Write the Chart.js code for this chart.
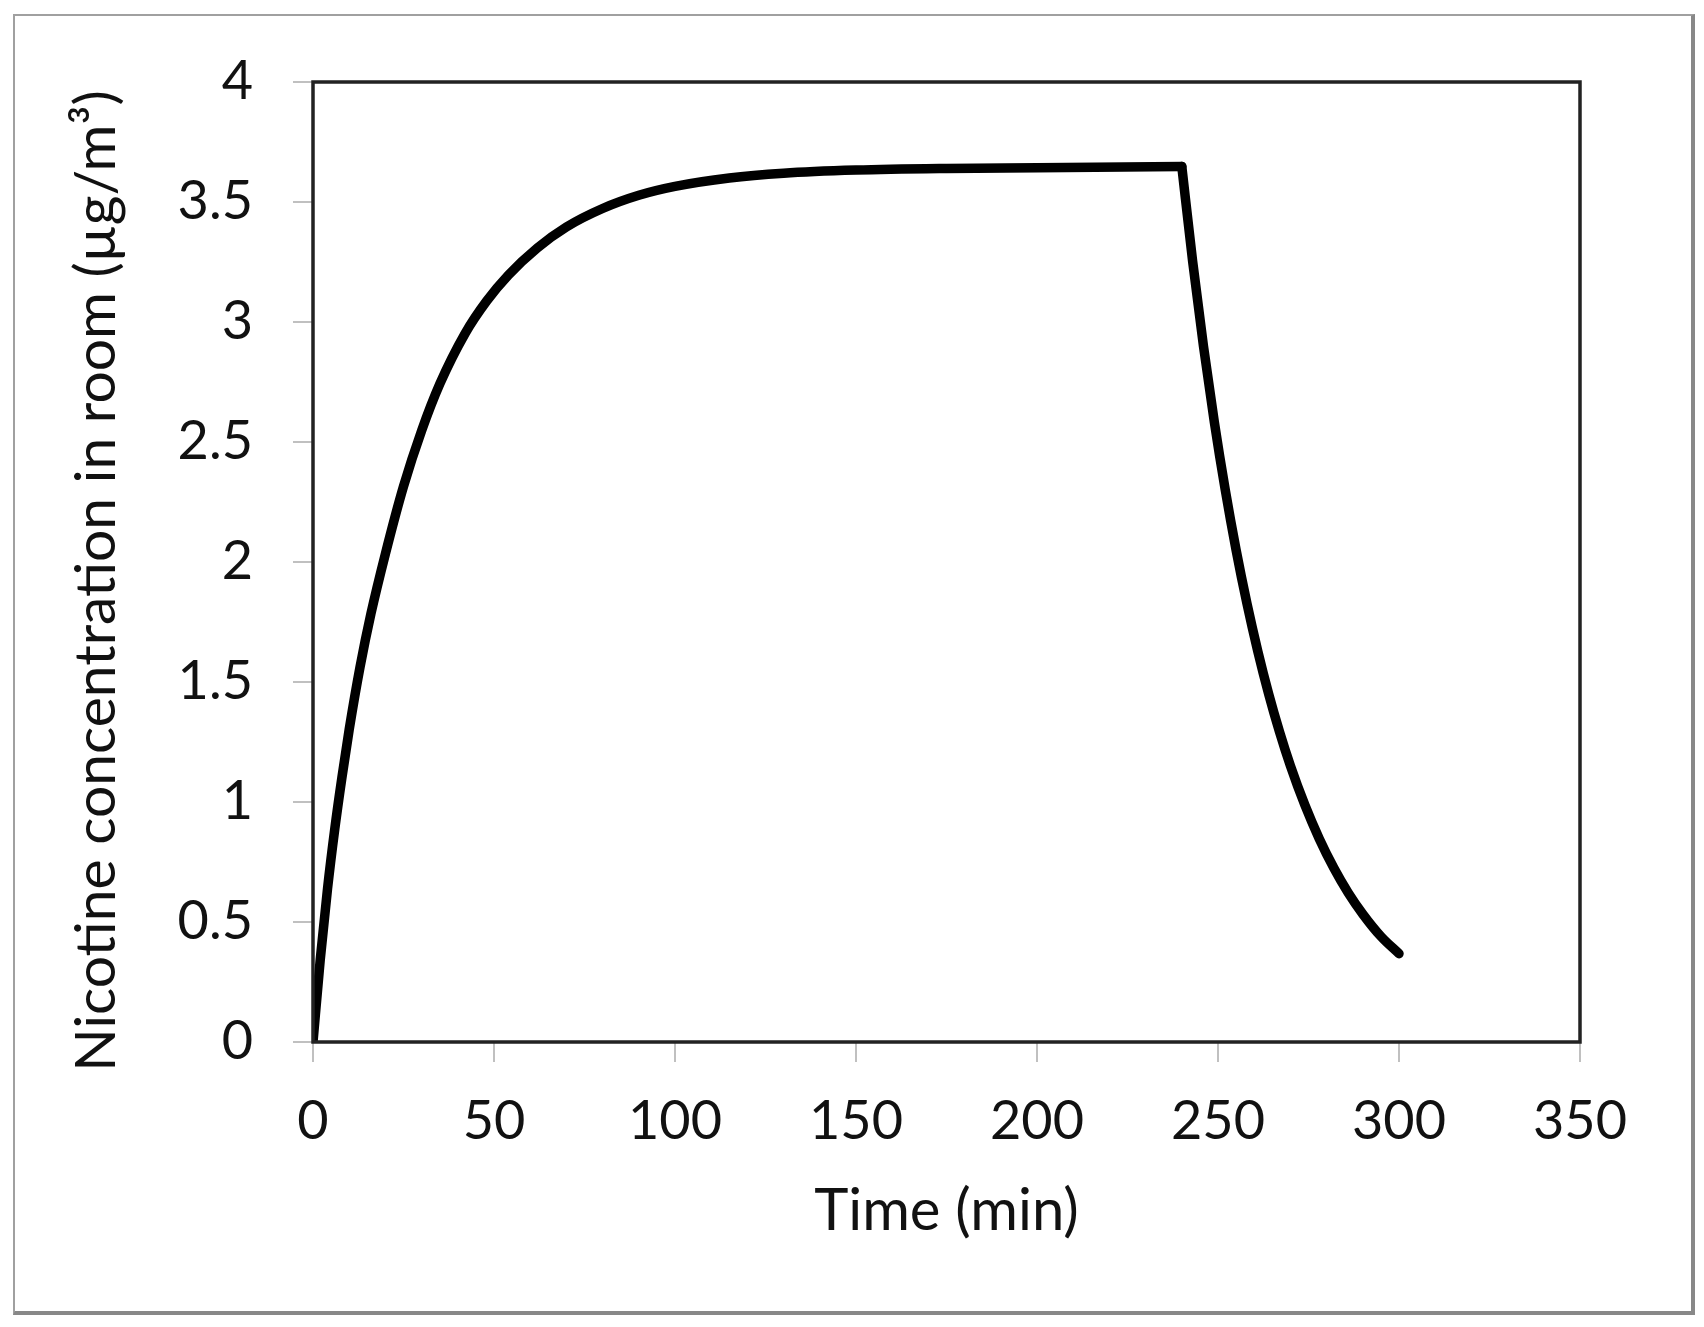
<!DOCTYPE html>
<html>
<head>
<meta charset="utf-8">
<script src="https://cdn.jsdelivr.net/npm/chart.js@4.4.1/dist/chart.umd.min.js"></script>
<style>
  html, body { margin: 0; padding: 0; background: #fff; }
  #frame {
    position: absolute; left: 13px; top: 14px;
    width: 1676px; height: 1295px;
    border-left: 2px solid #a0a0a0; border-top: 2px solid #a0a0a0;
    border-right: 4px solid #888; border-bottom: 4px solid #888;
  }
  #myChart { position: absolute; left: 0; top: 0; }
</style>
</head>
<body>
<div id="frame"></div>
<canvas id="myChart" width="1704" height="1327"></canvas>
<script>
// values: build-up while smoking (0-240 min)
const riseTime = [0, 2, 4, 6, 8, 10, 13, 16, 20, 25, 30, 35, 42, 48, 54, 62, 70, 80, 90, 100,
  115, 130, 150, 175, 200, 240]
const riseConc = [0, 0.343, 0.637, 0.886, 1.103, 1.302, 1.563, 1.784, 2.034, 2.315, 2.547, 2.741, 2.952, 3.088, 3.196, 3.309,
  3.396, 3.473, 3.528, 3.565, 3.6, 3.62, 3.633, 3.64, 3.643, 3.648]
// decay after smoking stops (240-300 min)
const decayTime = [240, 243, 246, 249, 252, 255, 258, 261, 264, 267, 270, 274, 278, 282, 286, 290, 295, 300]
const decayConc = [3.648, 3.252, 2.898, 2.582, 2.301, 2.05, 1.827, 1.628, 1.45, 1.292, 1.151, 0.987, 0.846, 0.725, 0.621,
  0.533, 0.44, 0.368]
const xTicks = [0, 50, 100, 150, 200, 250, 300, 350]
const yTicks = [0, 0.5, 1, 1.5, 2, 2.5, 3, 3.5, 4]
const xTitle = 'Time (min)'
const yTitle = 'Nicotine concentration in room (µg/m³)'

const fontFamily = 'Lato, "Open Sans", sans-serif'

// black box round the plot + rotated y title
const plotFrame = {
  id: 'plotFrame',
  afterDraw(chart) {
    const { ctx, chartArea: a } = chart
    ctx.save()
    ctx.strokeStyle = '#222'
    ctx.lineWidth = 3.5
    ctx.strokeRect(a.left, a.top, a.right - a.left, a.bottom - a.top)
    ctx.fillStyle = '#111'
    ctx.font = '57px ' + fontFamily
    ctx.textAlign = 'center'
    ctx.textBaseline = 'alphabetic'
    ctx.translate(115, 581)
    ctx.rotate(-Math.PI / 2)
    ctx.fillText(yTitle, 0, 0)
    ctx.restore()
  }
}

const lineStyle = {
  borderColor: '#000',
  borderWidth: 9.5,
  borderCapStyle: 'round',
  pointRadius: 0,
  fill: false,
  cubicInterpolationMode: 'monotone'
}

const ctx = document.getElementById('myChart').getContext('2d')
const myChart = new Chart(ctx, {
  type: 'line',
  data: {
    datasets: [{
      label: 'rise',
      data: riseTime.map((t, i) => ({ x: t, y: riseConc[i] })),
      ...lineStyle
    }, {
      label: 'decay',
      data: decayTime.map((t, i) => ({ x: t, y: decayConc[i] })),
      ...lineStyle
    }]
  },
  options: {
    responsive: false,
    animation: false,
    devicePixelRatio: 1,
    layout: { padding: { left: 0, top: 82, right: 124, bottom: 81 } },
    plugins: { legend: { display: false }, tooltip: { enabled: false } },
    scales: {
      x: {
        type: 'linear',
        min: 0,
        max: 350,
        afterBuildTicks: (s) => { s.ticks = xTicks.map(v => ({ value: v })) },
        afterFit: (s) => { s.height = 204 },
        ticks: { color: '#111', font: { family: fontFamily, size: 54 }, padding: 27, maxRotation: 0,
          callback: (v) => String(v) },
        grid: { drawOnChartArea: false, drawTicks: true, tickLength: 20, color: '#c0c0c0', lineWidth: 2 },
        border: { display: false },
        title: { display: true, text: xTitle, color: '#111', font: { family: fontFamily, size: 58 }, padding: 0 }
      },
      y: {
        min: 0,
        max: 4,
        afterBuildTicks: (s) => { s.ticks = yTicks.map(v => ({ value: v })) },
        afterFit: (s) => { s.width = 313 },
        ticks: { color: '#111', font: { family: fontFamily, size: 54 }, padding: 40,
          callback: (v) => String(v) },
        grid: { drawOnChartArea: false, drawTicks: true, tickLength: 20, color: '#c0c0c0', lineWidth: 2 },
        border: { display: false }
      }
    }
  },
  plugins: [plotFrame]
})
</script>
</body>
</html>
